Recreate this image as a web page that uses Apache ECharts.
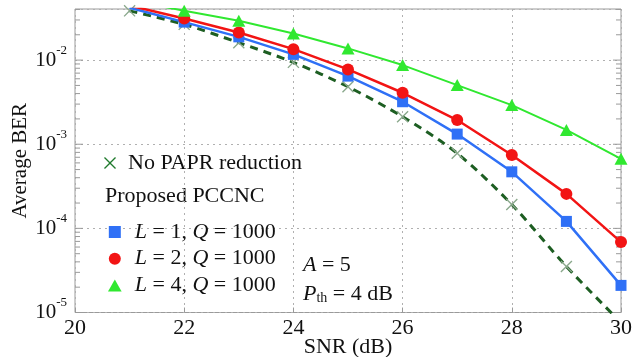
<!DOCTYPE html>
<html>
<head>
<meta charset="utf-8">
<script src="https://cdn.jsdelivr.net/npm/echarts@6/dist/echarts.min.js"></script>
<style>
  html, body { margin: 0; padding: 0; background: #ffffff; }
  #chart { width: 634px; height: 357px; }
</style>
</head>
<body>
<div id="chart"></div>
<script>
// SNR points (dB) and average BER per scheme
const snr = [21, 22, 23, 24, 25, 26, 27, 28, 29, 30];
const berNoPapr = [0.0385, 0.0266, 0.0161, 0.0094, 0.00482, 0.00212, 0.00078, 0.000192, 0.0000352, 0.0000076];
const berL1 = [0.0420, 0.0283, 0.0189, 0.0117, 0.00645, 0.00320, 0.00132, 0.000470, 0.000121, 0.0000210];
const berL2 = [0.0445, 0.0312, 0.0213, 0.0135, 0.00775, 0.00409, 0.00194, 0.000745, 0.000257, 0.0000687];
const berL4 = [0.0520, 0.0385, 0.0293, 0.0207, 0.01377, 0.00873, 0.00505, 0.00292, 0.00148, 0.00067];

const seriesNames = ['No PAPR reduction', 'L = 1, Q = 1000', 'L = 2, Q = 1000', 'L = 4, Q = 1000'];
const legendHeader = 'Proposed PCCNC';
const paramLines = ['{i|A} = 5', '{i|P}{sub|th} = 4 dB'];

// axis ticks
const xTicks = [20, 22, 24, 26, 28, 30];
const yDecades = [1e-5, 1e-4, 1e-3, 1e-2];
const yMax = 0.0405;

const FONT = 'Liberation Serif';
const BLUE = '#2f70f6', RED = '#f21414', GREEN = '#30e830', DARKGREEN = '#1d5e22';

// marker shapes
const X_PATH = 'path://M0,8L8,0L50,42L92,0L100,8L58,50L100,92L92,100L50,58L8,100L0,92L42,50Z';
const SQ_PATH = 'path://M0,0L100,0L100,100L0,100Z';
const TRI_PATH = 'path://M50,0L100,88L0,88Z';

// y tick marks (major at decades, minor at 2..9 within each decade)
const yTickMarks = [];
yDecades.forEach(function (d) {
  yTickMarks.push([d, 8]);
  for (let m = 2; m <= 9; m++) {
    if (d * m <= yMax) yTickMarks.push([d * m, 5]);
  }
});

function pairs(ys) { return snr.map(function (x, i) { return [x, ys[i]]; }); }

const chart = echarts.init(document.getElementById('chart'), null, { renderer: 'canvas' });

const legendRich = { i: { fontStyle: 'italic', fontFamily: FONT, fontSize: 22, color: '#111' } };

chart.setOption({
  animation: false,
  backgroundColor: '#ffffff',
  grid: {
    left: 75, right: 13, top: 9, bottom: 44.5,
    outerBoundsMode: 'none',
    show: true, borderColor: '#9a9a9a', borderWidth: 1
  },
  xAxis: {
    type: 'value', min: 20, max: 30, interval: 2,
    name: 'SNR (dB)', nameLocation: 'middle', nameGap: 24, nameMoveOverlap: false,
    nameTextStyle: { fontFamily: FONT, fontSize: 22, color: '#111' },
    axisLine: { show: false },
    axisTick: { show: true, inside: true, length: 5, lineStyle: { color: '#9a9a9a' } },
    axisLabel: {
      fontFamily: FONT, fontSize: 22, color: '#111', margin: 5,
      formatter: function (v) { return xTicks.indexOf(v) >= 0 ? String(v) : ''; }
    },
    splitLine: { show: true, lineStyle: { color: '#b0b0b0', type: [2, 4], width: 1 } }
  },
  yAxis: {
    type: 'log', logBase: 10, min: 1e-5, max: yMax,
    name: 'Average BER', nameLocation: 'middle', nameGap: 44, nameMoveOverlap: false,
    nameTextStyle: { fontFamily: FONT, fontSize: 21, color: '#111' },
    axisLine: { show: false },
    axisTick: { show: false },
    axisLabel: {
      margin: 8,
      formatter: function (v) {
        const e = Math.log10(v), r = Math.round(e);
        if (Math.abs(e - r) > 1e-6) return '';
        return '{b|10}{s|' + r + '}';
      },
      rich: {
        b: { fontFamily: FONT, fontSize: 21, color: '#111', lineHeight: 40 },
        s: { fontFamily: FONT, fontSize: 13, color: '#111', lineHeight: 13, verticalAlign: 'top', padding: [4, 0, 0, 0] }
      }
    },
    splitLine: { show: true, lineStyle: { color: '#b0b0b0', type: [2, 4], width: 1 } }
  },
  legend: [
    {
      orient: 'vertical', left: 104, top: 151, padding: 0, itemGap: 3,
      itemWidth: 26, itemHeight: 12, symbolKeepAspect: true,
      selectedMode: false,
      data: [{ name: seriesNames[0], icon: X_PATH, itemStyle: { color: '#1f7a2c' } }],
      textStyle: { fontFamily: FONT, fontSize: 22, color: '#111', lineHeight: 24 }
    },
    {
      orient: 'vertical', left: 108, top: 220, padding: 0, itemGap: 2.7,
      itemWidth: 30, itemHeight: 12, symbolKeepAspect: true,
      selectedMode: false,
      data: [
        { name: seriesNames[1], icon: SQ_PATH },
        { name: seriesNames[2], icon: 'circle' },
        { name: seriesNames[3], icon: TRI_PATH }
      ],
      formatter: function (name) { return name.replace(/([LQ])(?= =)/g, '{i|$1}'); },
      textStyle: { fontFamily: FONT, fontSize: 22, color: '#111', lineHeight: 24, rich: legendRich }
    }
  ],
  graphic: [
    {
      type: 'text', x: 105, y: 196.5, silent: true,
      style: { text: legendHeader, fontFamily: FONT, fontSize: 22, fill: '#111', verticalAlign: 'middle' }
    },
    {
      type: 'text', x: 303, y: 265, silent: true,
      style: {
        text: paramLines[0], fontFamily: FONT, fontSize: 22, fill: '#111', verticalAlign: 'middle',
        rich: { i: { fontFamily: FONT, fontSize: 22, fontStyle: 'italic', fill: '#111' } }
      }
    },
    {
      type: 'text', x: 303, y: 294, silent: true,
      style: {
        text: paramLines[1], fontFamily: FONT, fontSize: 22, fill: '#111', verticalAlign: 'middle',
        rich: {
          i: { fontFamily: FONT, fontSize: 22, fontStyle: 'italic', fill: '#111', lineHeight: 22 },
          sub: { fontFamily: FONT, fontSize: 14, fill: '#111', lineHeight: 14, padding: [9, 0, 0, 0] }
        }
      }
    }
  ],
  series: [
    {
      // y-axis tick marks on left and right frame edges
      type: 'custom', silent: true, z: 1,
      data: yTickMarks.map(function (t) { return [20, t[0], t[1]]; }),
      encode: { x: 0, y: 1 },
      renderItem: function (params, api) {
        const v = api.value(1), len = api.value(2);
        const pl = api.coord([20, v]), pr = api.coord([30, v]);
        const st = { stroke: '#9a9a9a', lineWidth: 1 };
        return {
          type: 'group', children: [
            { type: 'line', shape: { x1: pl[0], y1: pl[1], x2: pl[0] + len, y2: pl[1] }, style: st },
            { type: 'line', shape: { x1: pr[0], y1: pr[1], x2: pr[0] - len, y2: pr[1] }, style: st }
          ]
        };
      }
    },
    {
      name: seriesNames[0], type: 'line', data: pairs(berNoPapr), smooth: 0.3, clip: true, z: 2,
      symbol: X_PATH, symbolSize: 12,
      itemStyle: { color: '#8aa88c' },
      lineStyle: { color: DARKGREEN, width: 3, type: [8, 6] }
    },
    {
      name: seriesNames[1], type: 'line', data: pairs(berL1), clip: true, z: 3,
      symbol: 'rect', symbolSize: 11,
      itemStyle: { color: BLUE }, lineStyle: { color: BLUE, width: 2.5 }
    },
    {
      name: seriesNames[2], type: 'line', data: pairs(berL2), clip: true, z: 4,
      symbol: 'circle', symbolSize: 12,
      itemStyle: { color: RED }, lineStyle: { color: RED, width: 2.5 }
    },
    {
      name: seriesNames[3], type: 'line', data: pairs(berL4), clip: true, z: 5,
      symbol: 'triangle', symbolSize: [13, 12],
      itemStyle: { color: GREEN }, lineStyle: { color: GREEN, width: 2 }
    }
  ]
});
</script>
</body>
</html>
